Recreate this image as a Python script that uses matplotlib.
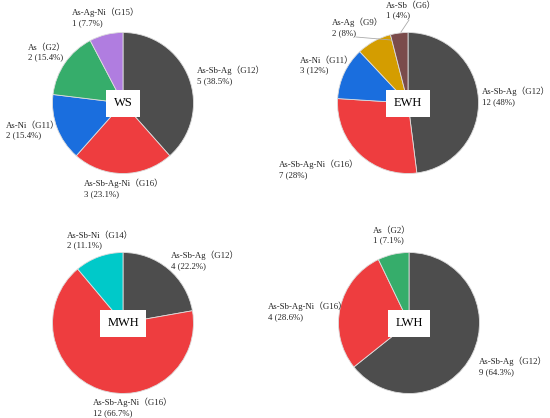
import matplotlib.pyplot as plt

W, H = 550, 418
FONT = ['Liberation Serif', 'Noto Sans CJK SC']

# colours per group
colors = {
    'G12': '#4d4d4d', 'G16': '#ee3d3f', 'G11': '#1a6ede', 'G2': '#36ad6b',
    'G15': '#b07de0', 'G9': '#d49d00', 'G6': '#7a4b4b', 'G14': '#00c9c9',
}
names = {
    'G12': 'As-Sb-Ag', 'G16': 'As-Sb-Ag-Ni', 'G11': 'As-Ni', 'G2': 'As',
    'G15': 'As-Ag-Ni', 'G9': 'As-Ag', 'G6': 'As-Sb', 'G14': 'As-Sb-Ni',
}

# data (clockwise from 12 o'clock)
ws_groups = ['G12', 'G16', 'G11', 'G2', 'G15']
ws_counts = [5, 3, 2, 2, 1]
ws_pct = ['38.5%', '23.1%', '15.4%', '15.4%', '7.7%']

ewh_groups = ['G12', 'G16', 'G11', 'G9', 'G6']
ewh_counts = [12, 7, 3, 2, 1]
ewh_pct = ['48%', '28%', '12%', '8%', '4%']

mwh_groups = ['G12', 'G16', 'G14']
mwh_counts = [4, 12, 2]
mwh_pct = ['22.2%', '66.7%', '11.1%']

lwh_groups = ['G12', 'G16', 'G2']
lwh_counts = [9, 4, 1]
lwh_pct = ['64.3%', '28.6%', '7.1%']

# layout in pixels: pie centre, label anchors (left, top), leader lines
panels = [
    ('WS', ws_groups, ws_counts, ws_pct, (123, 103),
     [(197, 66), (84, 179), (6, 122), (28, 44), (72, 8)], []),
    ('EWH', ewh_groups, ewh_counts, ewh_pct, (408, 103),
     [(482, 87), (279, 160), (300, 57), (332, 18), (386, 2)],
     [((356, 37), (391, 40)), ((409, 20), (401, 32))]),
    ('MWH', mwh_groups, mwh_counts, mwh_pct, (123, 323),
     [(171, 251), (93, 398), (67, 232)], []),
    ('LWH', lwh_groups, lwh_counts, lwh_pct, (409, 323),
     [(479, 357), (268, 302), (373, 227)], []),
]
R = 70.5

fig = plt.figure(figsize=(W / 100, H / 100), dpi=100)

for title, groups, counts, pct, (cx, cy), lab_pos, leaders in panels:
    ax = fig.add_axes([(cx - R) / W, (H - cy - R) / H, 2 * R / W, 2 * R / H])
    ax.pie(counts, colors=[colors[g] for g in groups], startangle=90,
           counterclock=False, radius=1,
           wedgeprops=dict(edgecolor='#dddddd', linewidth=0.6))
    ax.set_xlim(-1, 1)
    ax.set_ylim(-1, 1)
    ax.text(0, 0, title, ha='center', va='center', fontsize=9, family=FONT,
            bbox=dict(boxstyle='square,pad=0.6', fc='white', ec='none'))
    for g, c, p, (lx, ly) in zip(groups, counts, pct, lab_pos):
        fig.text(lx / W, 1 - ly / H, '%s（%s）\n%d (%s)' % (names[g], g, c, p),
                 ha='left', va='top', fontsize=6.3, family=FONT,
                 linespacing=1.22, color='#222222')
    for (x0, y0), (x1, y1) in leaders:
        fig.add_artist(plt.Line2D([x0 / W, x1 / W], [1 - y0 / H, 1 - y1 / H],
                                  color='#aaaaaa', linewidth=0.6))

fig.savefig('out.png', dpi=100)
